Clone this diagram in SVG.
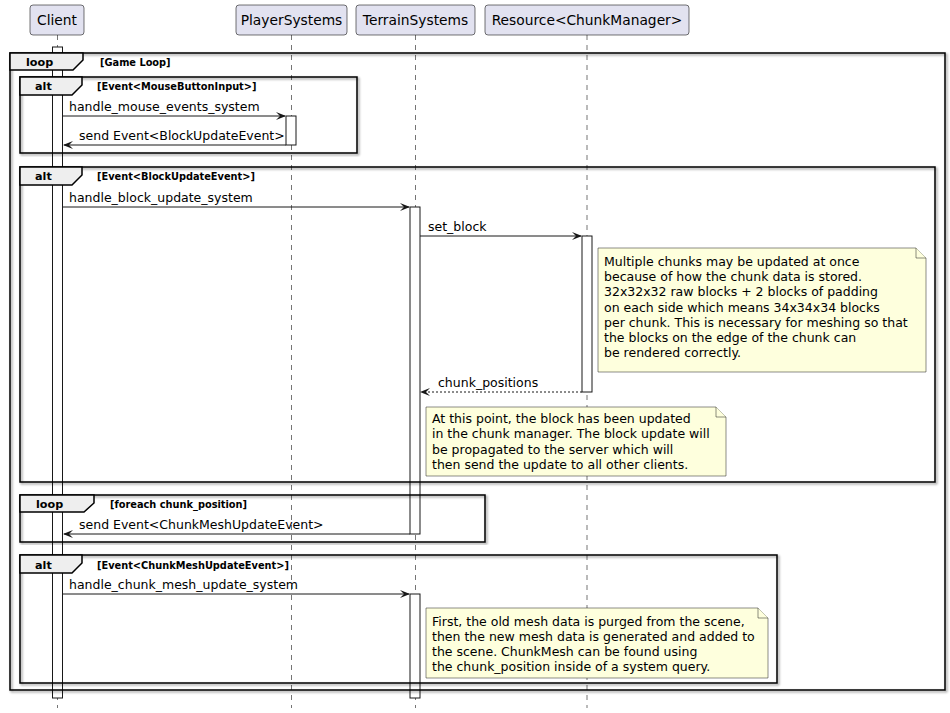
<svg xmlns="http://www.w3.org/2000/svg" width="950" height="713" viewBox="0 0 950 713">
  <style>
    .txt { font-family: "DejaVu Sans", "Noto Sans", sans-serif; font-size: 12.5px; fill: #000; }
    .name { font-family: "DejaVu Sans", "Noto Sans", sans-serif; font-size: 13.8px; fill: #000; text-anchor: middle; }
    .kw { font-family: "DejaVu Sans", "Noto Sans", sans-serif; font-size: 11.2px; font-weight: bold; fill: #000; }
    .cond { font-family: "DejaVu Sans", "Noto Sans", sans-serif; font-size: 9.8px; font-weight: bold; fill: #000; }
    .part { fill: #E2E2F0; stroke: #181818; stroke-width: 0.6; }
    .life { stroke: #181818; stroke-width: 0.6; stroke-dasharray: 5 5; fill: none; }
    .act { fill: #FFFFFF; stroke: #181818; stroke-width: 1; }
    .frame { fill: none; stroke: #000; stroke-width: 1.5; filter: url(#shadow); }
    .tab { fill: #EEEEEE; stroke: #000; stroke-width: 1.5; }
    .msg { stroke: #181818; stroke-width: 1; fill: none; }
    .ret { stroke: #181818; stroke-width: 1; fill: none; stroke-dasharray: 2 2; }
    .head { fill: #181818; }
    .note { fill: #FEFFDD; stroke: #181818; stroke-width: 0.5; }
  </style>
  <defs>
    <filter id="shadow" x="-5%" y="-5%" width="110%" height="110%">
      <feDropShadow dx="1.5" dy="1.5" stdDeviation="0.8" flood-color="#000" flood-opacity="0.45"/>
    </filter>
  </defs>

  <rect width="950" height="713" fill="#FFFFFF"/>

  <!-- lifelines -->
  <g id="lifelines">
    <line class="life" x1="57.5" y1="35" x2="57.5" y2="708"/>
    <line class="life" x1="291.5" y1="35" x2="291.5" y2="708"/>
    <line class="life" x1="415.5" y1="35" x2="415.5" y2="708"/>
    <line class="life" x1="587" y1="35" x2="587" y2="708"/>
  </g>

  <!-- participants -->
  <g id="client">
    <rect class="part" x="30" y="5" width="54" height="30" rx="3"/>
    <text class="name" x="57" y="25">Client</text>
  </g>
  <g id="player-systems">
    <rect class="part" x="236" y="5" width="111" height="30" rx="3"/>
    <text class="name" x="291.5" y="25">PlayerSystems</text>
  </g>
  <g id="terrain-systems">
    <rect class="part" x="356" y="5" width="119" height="30" rx="3"/>
    <text class="name" x="415.5" y="25">TerrainSystems</text>
  </g>
  <g id="chunk-manager">
    <rect class="part" x="485" y="5" width="204" height="30" rx="3"/>
    <text class="name" x="587" y="25">Resource&lt;ChunkManager&gt;</text>
  </g>

  <!-- activation bars -->
  <g id="activations">
    <rect class="act" x="52.5" y="47" width="10" height="651"/>
    <rect class="act" x="286" y="116" width="10" height="29"/>
    <rect class="act" x="410" y="207" width="10" height="327"/>
    <rect class="act" x="582" y="236" width="10" height="156"/>
    <rect class="act" x="410" y="594" width="10" height="104"/>
  </g>

  <!-- combined fragments -->
  <g id="game-loop">
    <rect class="frame" x="10" y="53" width="935" height="637"/>
    <polygon class="tab" points="10,53 83,53 83,60 73,70 10,70"/>
    <text class="kw" x="26" y="66">loop</text>
    <text class="cond" x="100" y="66">[Game Loop]</text>
  </g>
  <g id="alt-mouse">
    <rect class="frame" x="20" y="77" width="337" height="76"/>
    <polygon class="tab" points="20,77 82,77 82,85 72,95 20,95"/>
    <text class="kw" x="35" y="90">alt</text>
    <text class="cond" x="97" y="90">[Event&lt;MouseButtonInput&gt;]</text>
  </g>
  <g id="alt-block-update">
    <rect class="frame" x="20" y="167" width="915" height="315"/>
    <polygon class="tab" points="20,167 82,167 82,175 72,185 20,185"/>
    <text class="kw" x="35" y="180">alt</text>
    <text class="cond" x="97" y="180">[Event&lt;BlockUpdateEvent&gt;]</text>
  </g>
  <g id="loop-chunks">
    <rect class="frame" x="20" y="495" width="465" height="47"/>
    <polygon class="tab" points="20,495 94,495 94,503 84,512 20,512"/>
    <text class="kw" x="36" y="508">loop</text>
    <text class="cond" x="110" y="508">[foreach chunk_position]</text>
  </g>
  <g id="alt-mesh-update">
    <rect class="frame" x="20" y="555" width="757" height="128"/>
    <polygon class="tab" points="20,555 82,555 82,563 72,573 20,573"/>
    <text class="kw" x="35" y="569">alt</text>
    <text class="cond" x="97" y="569">[Event&lt;ChunkMeshUpdateEvent&gt;]</text>
  </g>

  <!-- notes -->
  <g id="note-chunks">
    <path class="note" d="M598,248 L916,248 L926,258 L926,372 L598,372 Z"/>
    <path class="note" d="M916,248 L916,258 L926,258"/>
    <text class="txt" x="604" y="266">Multiple chunks may be updated at once</text>
    <text class="txt" x="604" y="281.2">because of how the chunk data is stored.</text>
    <text class="txt" x="604" y="296.4">32x32x32 raw blocks + 2 blocks of padding</text>
    <text class="txt" x="604" y="311.6">on each side which means 34x34x34 blocks</text>
    <text class="txt" x="604" y="326.8">per chunk. This is necessary for meshing so that</text>
    <text class="txt" x="604" y="342">the blocks on the edge of the chunk can</text>
    <text class="txt" x="604" y="357.2">be rendered correctly.</text>
  </g>
  <g id="note-propagate">
    <path class="note" d="M426,407 L716,407 L726,417 L726,476 L426,476 Z"/>
    <path class="note" d="M716,407 L716,417 L726,417"/>
    <text class="txt" x="432" y="423">At this point, the block has been updated</text>
    <text class="txt" x="432" y="438.3">in the chunk manager. The block update will</text>
    <text class="txt" x="432" y="453.6">be propagated to the server which will</text>
    <text class="txt" x="432" y="468.9">then send the update to all other clients.</text>
  </g>
  <g id="note-mesh">
    <path class="note" d="M426,608 L758,608 L768,618 L768,678 L426,678 Z"/>
    <path class="note" d="M758,608 L758,618 L768,618"/>
    <text class="txt" x="432" y="626">First, the old mesh data is purged from the scene,</text>
    <text class="txt" x="432" y="641">then the new mesh data is generated and added to</text>
    <text class="txt" x="432" y="656">the scene. ChunkMesh can be found using</text>
    <text class="txt" x="432" y="671">the chunk_position inside of a system query.</text>
  </g>

  <!-- messages -->
  <g id="connectors">
    <line class="msg" x1="62.5" y1="116" x2="285" y2="116"/>
    <polygon class="head" points="276,112 286,116 276,120 280,116"/>
    <text class="txt" x="69" y="111">handle_mouse_events_system</text>

    <line class="msg" x1="286" y1="145" x2="64" y2="145"/>
    <polygon class="head" points="73,141 63,145 73,149 69,145"/>
    <text class="txt" x="79" y="140">send Event&lt;BlockUpdateEvent&gt;</text>

    <line class="msg" x1="62.5" y1="207" x2="409" y2="207"/>
    <polygon class="head" points="400,203 410,207 400,211 404,207"/>
    <text class="txt" x="69" y="202">handle_block_update_system</text>

    <line class="msg" x1="420" y1="236" x2="581" y2="236"/>
    <polygon class="head" points="572,232 582,236 572,240 576,236"/>
    <text class="txt" x="428" y="231">set_block</text>

    <line class="ret" x1="582" y1="392" x2="422" y2="392"/>
    <polygon class="head" points="430,388 420,392 430,396 426,392"/>
    <text class="txt" x="438" y="387">chunk_positions</text>

    <line class="msg" x1="410" y1="534" x2="64" y2="534"/>
    <polygon class="head" points="73,530 63,534 73,538 69,534"/>
    <text class="txt" x="79" y="529">send Event&lt;ChunkMeshUpdateEvent&gt;</text>

    <line class="msg" x1="62.5" y1="594" x2="409" y2="594"/>
    <polygon class="head" points="400,590 410,594 400,598 404,594"/>
    <text class="txt" x="69" y="589">handle_chunk_mesh_update_system</text>
  </g>
</svg>
